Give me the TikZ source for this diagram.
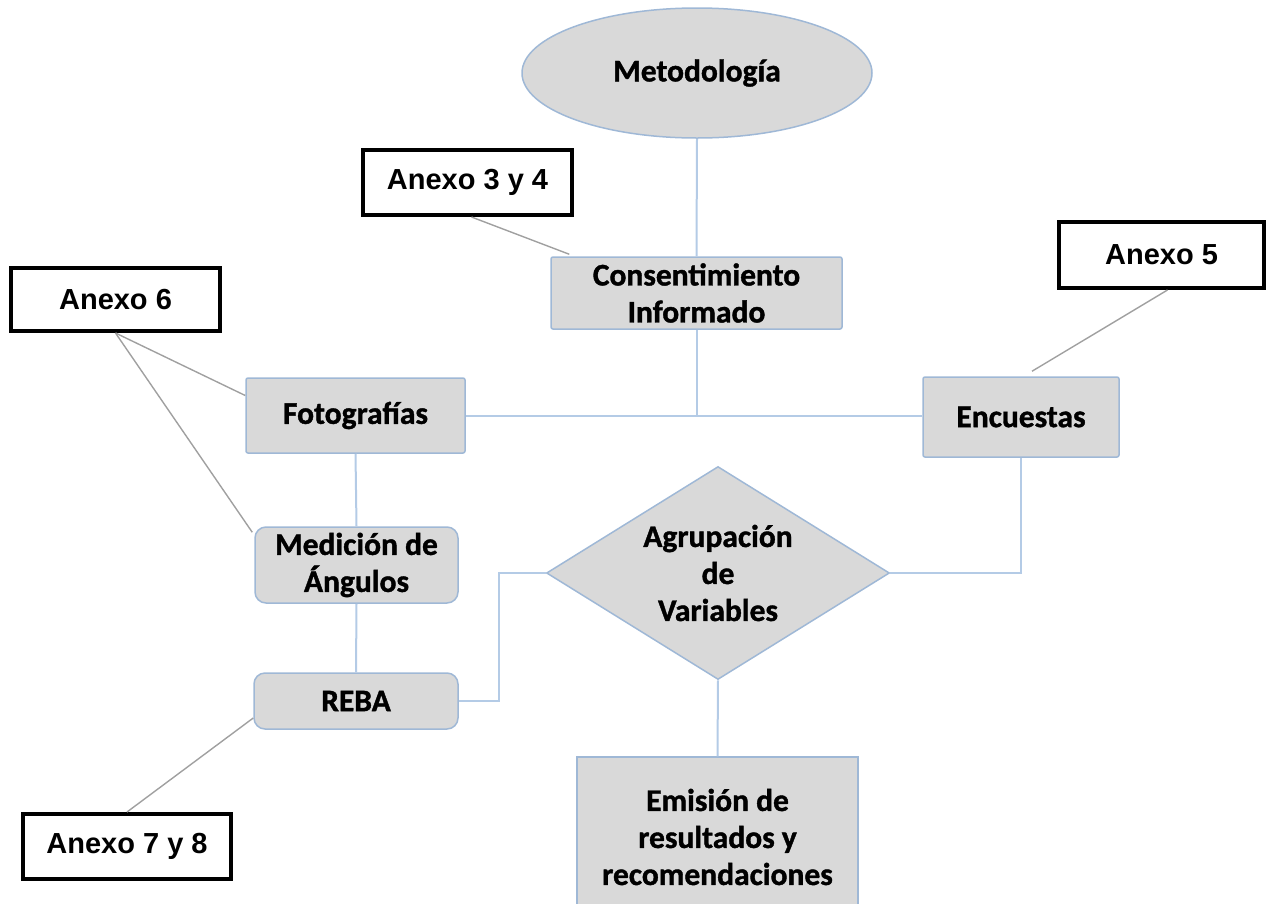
\documentclass[tikz,border=0pt]{standalone}
\usepackage{fontspec}
\setmainfont{Carlito}[BoldFeatures={FakeBold=1.2}]
\newfontfamily\arialfont{Liberation Sans}
\usetikzlibrary{shapes.geometric}
\definecolor{boxfill}{HTML}{D9D9D9}
\definecolor{boxedge}{HTML}{9FB8D6}
\definecolor{linkblue}{HTML}{B4CBE6}
\definecolor{notegray}{HTML}{A0A0A0}
\tikzset{
  graybox/.style={draw=boxedge, line width=1.5pt, fill=boxfill, inner sep=0pt, align=center,
    font=\fontsize{31.5}{37}\selectfont\bfseries, rounded corners=2pt},
  roundbox/.style={graybox, rounded corners=11pt},
  notebox/.style={draw=black, line width=4pt, fill=white, inner sep=0pt,
    font=\arialfont\fontsize{29}{34}\selectfont\bfseries},
  link/.style={draw=linkblue, line width=2pt},
  notelink/.style={draw=notegray, line width=1.4pt}
}
\begin{document}
\begin{tikzpicture}[x=1pt,y=-1pt]
\useasboundingbox (0,0) rectangle (1267,903);
\clip (0,0) rectangle (1267,903);
% main nodes
\node[graybox, ellipse, minimum width=350pt, minimum height=130pt] (meth) at (697,73) {Metodología};
\node[graybox, minimum width=291pt, minimum height=72pt] (cons) at (696.5,293) {Consentimiento\\Informado};
\node[graybox, minimum width=219pt, minimum height=75pt] (foto) at (355.5,415.5) {Fotografías};
\node[graybox, minimum width=196pt, minimum height=80pt] (enc) at (1021,417) {Encuestas};
\node[roundbox, minimum width=203pt, minimum height=76pt] (med) at (356.5,565) {Medición de\\Ángulos};
\node[roundbox, minimum width=204pt, minimum height=56pt] (reba) at (356,701) {REBA};
\node[graybox, diamond, aspect=1.61, rounded corners=0pt, minimum width=343pt, minimum height=213pt] (agr) at (718,573) {Agrupación\\de\\Variables};
\node[graybox, rounded corners=0pt, minimum width=281pt, minimum height=160pt] (emis) at (717.5,837) {Emisión de\\resultados y\\recomendaciones};
% note boxes
\node[notebox, minimum width=209pt, minimum height=65pt] (a34) at (467.5,182.5) {Anexo 3 y 4};
\node[notebox, minimum width=205pt, minimum height=66pt] (a5) at (1161.5,255) {Anexo 5};
\node[notebox, minimum width=209pt, minimum height=63pt] (a6) at (115.5,299.5) {Anexo 6};
\node[notebox, minimum width=208pt, minimum height=65pt] (a78) at (127,846.5) {Anexo 7 y 8};
% blue connectors
\coordinate (j) at (696.5,416);
\draw[link] (meth.south) -- (cons.north);
\draw[link] (cons.south) -- (j);
\draw[link] (j) -- (j -| foto.east);
\draw[link] (j) -- (j -| enc.west);
\draw[link] (foto.south) -- (med.north);
\draw[link] (med.south) -- (reba.north);
\draw[link] (reba.east) -- ++(40,0) |- (agr.west);
\draw[link] (enc.south) |- (agr.east);
\draw[link] (agr.south) -- (emis.north);
% gray note connectors
\draw[notelink] ([xshift=4pt]a34.south) -- ([xshift=19pt,yshift=2pt]cons.north west);
\draw[notelink] ([xshift=6pt]a5.south) -- ([xshift=11pt,yshift=5pt]enc.north);
\draw[notelink] (a6.south) -- ([yshift=20pt]foto.west);
\draw[notelink] (a6.south) -- ([xshift=-2pt,yshift=-6pt]med.north west);
\draw[notelink] (a78.north) -- ([yshift=-17pt]reba.west);
\end{tikzpicture}
\end{document}
